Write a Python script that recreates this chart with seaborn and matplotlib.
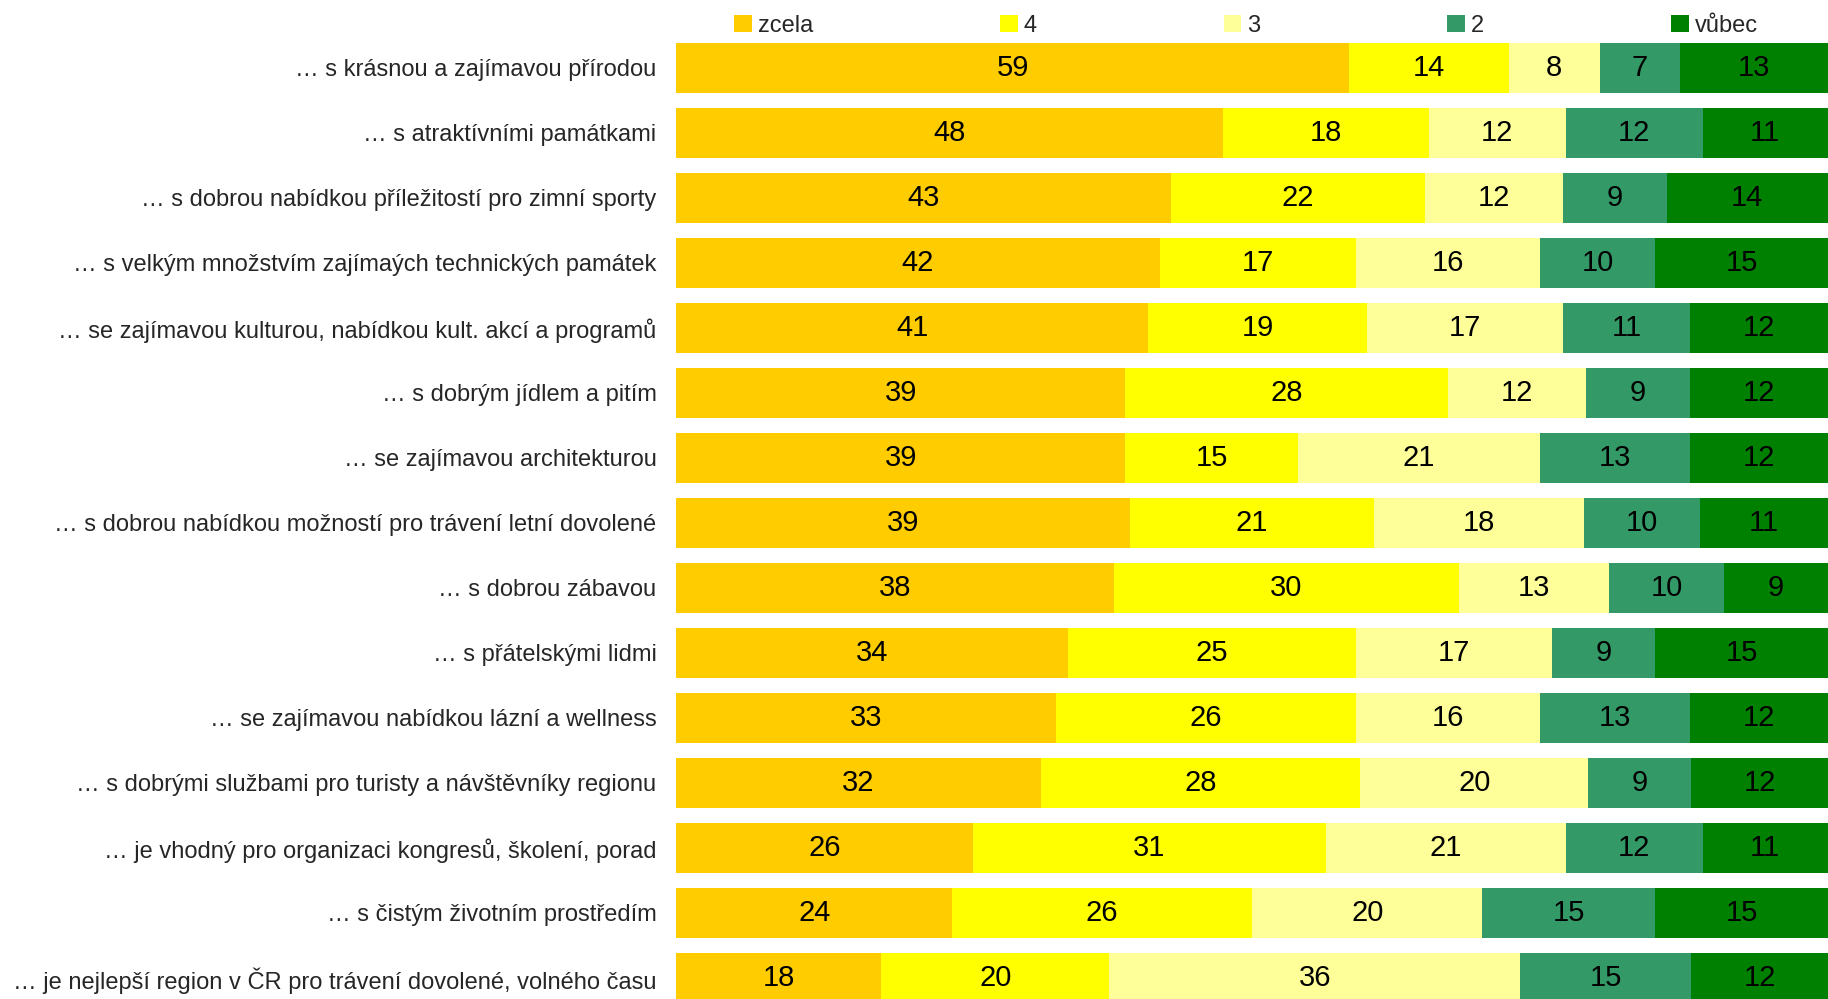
import pandas as pd
import numpy as np
import seaborn as sns
import matplotlib.pyplot as plt
from matplotlib.patches import Patch

# Data
categories = [
    "… s krásnou a zajímavou přírodou",
    "… s atraktívními památkami",
    "… s dobrou nabídkou příležitostí pro zimní sporty",
    "… s velkým množstvím zajímaých technických památek",
    "… se zajímavou kulturou, nabídkou kult. akcí a programů",
    "… s dobrým jídlem a pitím",
    "… se zajímavou architekturou",
    "… s dobrou nabídkou možností pro trávení letní dovolené",
    "… s dobrou zábavou",
    "… s přátelskými lidmi",
    "… se zajímavou nabídkou lázní a wellness",
    "… s dobrými službami pro turisty a návštěvníky regionu",
    "… je vhodný pro organizaci kongresů, školení, porad",
    "… s čistým životním prostředím",
    "… je nejlepší region v ČR pro trávení dovolené, volného času",
]

zcela = [59, 48, 43, 42, 41, 39, 39, 39, 38, 34, 33, 32, 26, 24, 18]
ctyri = [14, 18, 22, 17, 19, 28, 15, 21, 30, 25, 26, 28, 31, 26, 20]
tri = [8, 12, 12, 16, 17, 12, 21, 18, 13, 17, 16, 20, 21, 20, 36]
dva = [7, 12, 9, 10, 11, 9, 13, 10, 10, 9, 13, 9, 12, 15, 15]
vubec = [13, 11, 14, 15, 12, 12, 12, 11, 9, 15, 12, 12, 11, 15, 12]

series_names = ["zcela", "4", "3", "2", "vůbec"]
colors = ["#FFCC00", "#FFFF00", "#FFFF99", "#339966", "#008000"]

df = pd.DataFrame({
    "cat": categories,
    "zcela": zcela,
    "4": ctyri,
    "3": tri,
    "2": dva,
    "vůbec": vubec,
})

# Normalize each row to 100 %
vals = df[series_names].astype(float)
share = vals.div(vals.sum(axis=1), axis=0)
cum = share.cumsum(axis=1)

# Plot
sns.set_style("white")
plt.rcParams["font.family"] = ["Liberation Sans Narrow", "Liberation Sans", "DejaVu Sans"]

fig = plt.figure(figsize=(18.28, 9.99), dpi=100)
ax = fig.add_axes([0.3698, -0.0115, 0.6302, 0.976])

# draw cumulative bars from the right-most series to the left-most
for name, color in zip(series_names[::-1], colors[::-1]):
    plot_df = pd.DataFrame({"cat": df["cat"], "val": cum[name]})
    sns.barplot(
        data=plot_df,
        x="val",
        y="cat",
        color=color,
        saturation=1,
        width=0.78,
        orient="h",
        ax=ax,
        linewidth=0,
    )

# value labels
for name in series_names:
    centers = cum[name] - share[name] / 2
    for i, (c, v) in enumerate(zip(centers, df[name])):
        ax.text(c, i, str(v), ha="center", va="center",
                fontsize=21, color="black")

ax.set_xlim(0, 1)
ax.set_ylim(14.5, -0.5)
ax.set_xlabel("")
ax.set_ylabel("")
ax.set_xticks([])
ax.tick_params(axis="y", length=0, pad=14, labelsize=17)
for s in ax.spines.values():
    s.set_visible(False)

handles = [Patch(facecolor=c, edgecolor="none") for c in colors]
fig.legend(
    handles,
    series_names,
    loc="lower left",
    bbox_to_anchor=(734 / 1828, 0.963, (1758 - 734) / 1828, 0.03),
    mode="expand",
    ncol=5,
    frameon=False,
    fontsize=17,
    handlelength=0.75,
    handleheight=0.75,
    handletextpad=0.25,
    borderpad=0,
    borderaxespad=0,
)

fig.savefig("out.png", dpi=100)
plt.close()
